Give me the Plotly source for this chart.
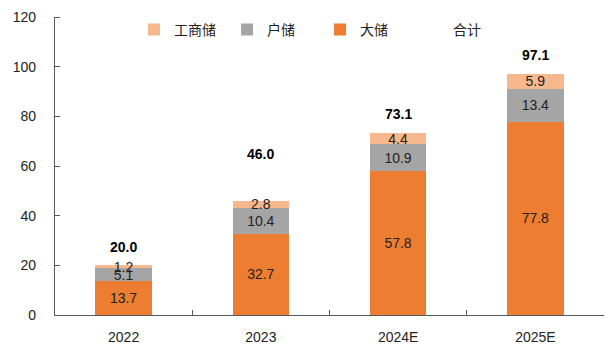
import plotly.graph_objects as go

categories = ["2022", "2023", "2024E", "2025E"]
large_storage = [13.7, 32.7, 57.8, 77.8]      # 大储
household = [5.1, 10.4, 10.9, 13.4]           # 户储
commercial = [1.2, 2.8, 4.4, 5.9]             # 工商储
totals = [20.0, 46.0, 73.1, 97.1]             # 合计
total_label_shift = [18, 47, 19, 19]          # pixel offset of total labels

num_font = "Liberation Sans"
cjk_font = "Noto Sans CJK SC"
axis_color = "#595959"

fig = go.Figure()
series = [
    ("大储", large_storage, "#ED7D31", 3),
    ("户储", household, "#A5A5A5", 2),
    ("工商储", commercial, "#F7B88E", 1),
]
for name, vals, color, rank in series:
    fig.add_trace(go.Bar(
        x=categories, y=vals, name=name, marker=dict(color=color, line=dict(width=0)),
        text=[f"{v:.1f}" for v in vals], textposition="inside", insidetextanchor="middle",
        textangle=0, textfont=dict(family=num_font, size=14, color="#222222"),
        width=0.41, legendrank=rank, cliponaxis=False,
    ))

fig.add_trace(go.Scatter(
    x=categories, y=totals, name="合计", mode="lines",
    line=dict(color="rgba(0,0,0,0)", width=0), legendrank=4, hoverinfo="skip",
))

for i, (t, s) in enumerate(zip(totals, total_label_shift)):
    fig.add_annotation(x=i, y=t, text=f"<b>{t:.1f}</b>", showarrow=False,
                       yshift=s, font=dict(family=num_font, size=14, color="#000000"))

fig.update_layout(
    barmode="stack",
    width=612, height=356,
    margin=dict(l=47, r=16, t=9, b=49, autoexpand=False),
    paper_bgcolor="white", plot_bgcolor="white",
    showlegend=True,
    legend=dict(orientation="h", x=0.144, xanchor="left", y=0.957, yanchor="middle",
                font=dict(family=cjk_font, size=14, color="#222222"),
                traceorder="normal", entrywidth=48, entrywidthmode="pixels",
                bgcolor="rgba(0,0,0,0)"),
    uniformtext=dict(minsize=14, mode="show"),
    xaxis=dict(type="category", categoryorder="array", categoryarray=categories,
               range=[-0.5, 3.5], showline=True, linecolor=axis_color, linewidth=1.3,
               ticks="inside", ticklen=5, tickcolor=axis_color,
               tickson="boundaries", showgrid=False, automargin=False,
               ticklabelstandoff=9,
               tickfont=dict(family=num_font, size=14, color="#222222")),
    yaxis=dict(range=[0, 120], dtick=20, showline=True, linecolor=axis_color, linewidth=1.3,
               ticks="outside", ticklen=15, tickcolor="rgba(0,0,0,0)", showgrid=False,
               minor=dict(ticks="inside", ticklen=5, tickcolor=axis_color, dtick=20,
                          tick0=0, showgrid=False),
               zeroline=False, automargin=False,
               tickfont=dict(family=num_font, size=14, color="#222222")),
)

fig.write_html("out.html")
